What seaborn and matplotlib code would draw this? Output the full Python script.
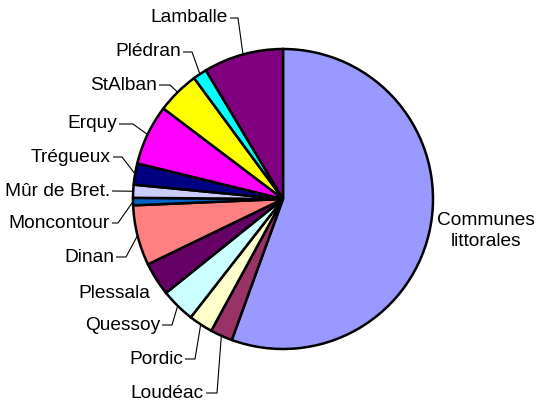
import numpy as np
import matplotlib
matplotlib.use("Agg")
import matplotlib.pyplot as plt
import seaborn as sns

sns.set_theme(style="white")
plt.rcParams['font.family'] = ['Liberation Sans', 'DejaVu Sans']

# Share of each commune (percent), clockwise from 12 o'clock
communes = ["Communes\nlittorales", "Loudéac", "Pordic", "Quessoy", "Plessala",
            "Dinan", "Moncontour", "Mûr de Bret.", "Trégueux", "Erquy",
            "StAlban", "Plédran", "Lamballe"]
shares = [55.6, 2.4, 2.6, 3.7, 3.6, 6.5, 0.8, 1.4, 2.3, 6.5, 4.6, 1.5, 8.6]
colors = ["#9999FF", "#993366", "#FFFFCC", "#CCFFFF", "#660066", "#FF8080",
          "#0066CC", "#CCCCFF", "#000080", "#FF00FF", "#FFFF00", "#00FFFF",
          "#800080"]

W, H = 536, 403
CX, CY, R = 283, 199, 150

# label layout: (text right edge x, text y, elbow x or None, draw leader)
label_layout = {
    "Lamballe": (228, 18, 238, True),
    "Plédran": (181, 52, 192, True),
    "StAlban": (157, 85, 170, True),
    "Erquy": (117, 124, 133, True),
    "Trégueux": (111, 157, 122, True),
    "Mûr de Bret.": (110, 191, None, True),
    "Moncontour": (110, 223, 118, True),
    "Dinan": (114, 257, 126, True),
    "Plessala": (150, 293, None, False),
    "Quessoy": (160, 325, 172, True),
    "Pordic": (183, 359, 195, True),
    "Loudéac": (204, 393, 217, True),
}

fig = plt.figure(figsize=(W / 100, H / 100), dpi=100)
ax = fig.add_axes([0, 0, 1, 1])

ax.pie(shares, colors=colors, center=(CX, CY), radius=R,
       startangle=270, counterclock=True,
       wedgeprops=dict(edgecolor="black", linewidth=1.8))
ax.set_xlim(0, W)
ax.set_ylim(H, 0)
ax.set_aspect("equal")
ax.axis("off")

fs = 13.8
total = float(np.sum(shares))
cum = np.cumsum([0] + shares)
for i, name in enumerate(communes):
    mid = np.radians((cum[i] + shares[i] / 2) / total * 360.0)
    px, py = CX + R * np.sin(mid), CY - R * np.cos(mid)
    if i == 0:
        ax.text(486, 231, name, ha="center", va="center", fontsize=fs,
                linespacing=1.25, color="black")
        continue
    tx, ty, ex, leader = label_layout[name]
    ax.text(tx, ty, name, ha="right", va="center", fontsize=fs, color="black")
    if leader:
        if ex is None:
            xs, ys = [tx + 2, px], [ty, py]
        else:
            xs, ys = [tx + 2, ex, px], [ty, ty, py]
        ax.plot(xs, ys, color="black", linewidth=0.8, solid_capstyle="butt")

fig.savefig("out.png", dpi=100, facecolor="white")
